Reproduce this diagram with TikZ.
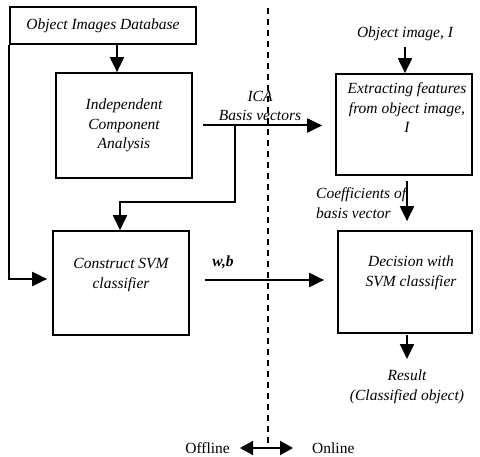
\documentclass[tikz,border=0pt]{standalone}
\usepackage{fontspec}
\setmainfont{Liberation Serif}
\usetikzlibrary{arrows.meta}
\begin{document}
\begin{tikzpicture}[x=1pt,y=-1pt,
  box/.style={draw,line width=1.7pt,inner sep=0pt},
  lbl/.style={inner sep=0pt,align=center,font=\fontsize{15.5}{19.5}\selectfont\itshape},
  conn/.style={line width=2pt,-{Triangle[length=15pt,width=14pt]}},
  twoway/.style={line width=2pt,{Triangle[length=13pt,width=14pt]}-{Triangle[length=13pt,width=14pt]}}]
\path[use as bounding box] (0,0) rectangle (480,457);
% offline side
\node[box,lbl,minimum width=186pt,minimum height=37pt] (db) at (103,25.5) {Object Images Database};
\node[box,lbl,minimum width=136pt,minimum height=105pt] (ica) at (124,125.5) {Independent\\Component\\Analysis};
\node[box,minimum width=136pt,minimum height=104pt] (svm) at (121,283) {};
\node[lbl] (svmtext) at (121,275) {Construct SVM\\classifier};
% online side
\node[box,minimum width=136pt,minimum height=101pt] (ext) at (404,124.5) {};
\node[lbl] (exttext) at (407,108) {Extracting features\\from object image,\\I};
\node[box,minimum width=134pt,minimum height=102pt] (dec) at (405,282) {};
\node[lbl] (dectext) at (411,273) {Decision with\\SVM classifier};
\node[lbl] (objimg) at (405,34) {Object image, I};
\node[lbl] (result) at (407,387) {Result\\(Classified object)};
% labels on connectors
\node[lbl] (basis) at (260,106) {ICA\\Basis vectors};
\node[lbl,anchor=west,align=left] (coeff) at (316,203) {Coefficients of\\basis vector};
\node[lbl] (wb) at (223,262) {\textbf{w,b}};
\node[inner sep=0pt,font=\fontsize{15.5}{19.5}\selectfont,anchor=east] (offline) at (230,448) {Offline};
\node[inner sep=0pt,font=\fontsize{15.5}{19.5}\selectfont,anchor=west] (online) at (312,448) {Online};
% connectors
\coordinate (dbout) at (117,44);
\draw[conn] (dbout) -- (dbout |- ica.north);
\draw[conn,shorten >=5pt] (db.south west) |- ([yshift=4pt]svm.west);
\coordinate (icaout) at (203,125.5);
\draw[conn,shorten >=13pt] (icaout) -- (icaout -| ext.west);
\coordinate (split) at (235,125.5);
\coordinate (bend) at (120,202);
\draw[conn] (split) |- (bend) -- (bend |- svm.north);
\coordinate (wbout) at (205,280);
\draw[conn,shorten >=13pt] (wbout) -- (wbout -| dec.west);
\draw[conn,shorten <=6pt] (objimg.south) -- (objimg.south |- ext.north);
\coordinate (coeffin) at (407,181);
\draw[conn,shorten >=9pt] (coeffin) -- (coeffin |- dec.north);
\coordinate (resout) at (407,335);
\draw[conn,shorten >=11pt] (resout) -- (resout |- result.north);
% offline / online divider
\coordinate (divtop) at (268,8);
\coordinate (divbot) at (268,445);
\draw[line width=1.5pt,dash pattern=on 6pt off 5pt] (divtop) -- (divbot);
\draw[twoway,shorten <=10pt,shorten >=19pt] (offline.east) -- (online.west);
\end{tikzpicture}
\end{document}
